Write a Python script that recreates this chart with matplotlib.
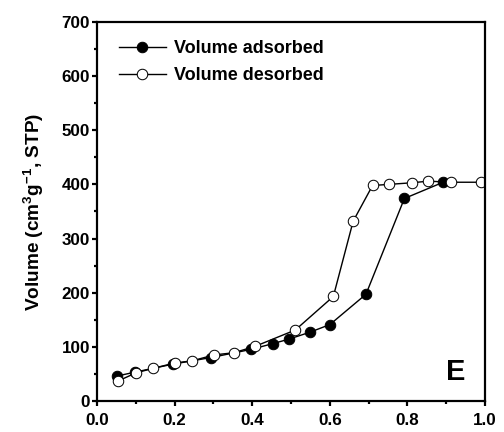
import matplotlib.pyplot as plt
from matplotlib.ticker import MultipleLocator

plt.rcParams['font.family'] = ['Liberation Sans', 'DejaVu Sans']
plt.rcParams['font.weight'] = 'bold'
plt.rcParams['mathtext.fontset'] = 'custom'
plt.rcParams['mathtext.rm'] = 'Liberation Sans:bold'
plt.rcParams['mathtext.default'] = 'rm'

# adsorption branch
p_ads = [0.052, 0.097, 0.196, 0.293, 0.396, 0.454, 0.494, 0.549, 0.600, 0.693, 0.792, 0.892]
v_ads = [46, 53, 68, 80, 95, 106, 114, 127, 141, 197, 374, 404]

# desorption branch
p_des = [0.055, 0.101, 0.144, 0.200, 0.245, 0.302, 0.353, 0.408, 0.511, 0.609, 0.660,
         0.710, 0.752, 0.811, 0.854, 0.911, 0.989]
v_des = [37, 52, 60, 70, 74, 85, 89, 101, 131, 193, 332, 398, 400, 403, 406, 404, 404]

fig = plt.figure(figsize=(7, 6), dpi=72)
ax = fig.add_axes([0.1925, 0.072, 0.77, 0.877])

ax.plot(p_ads, v_ads, '-o', color='black', mfc='black', mec='black',
        ms=10.5, lw=1.4, label='Volume adsorbed')
ax.plot(p_des, v_des, '-o', color='black', mfc='white', mec='black',
        ms=10.5, lw=1.4, label='Volume desorbed')

ax.set_xlim(0, 1.0)
ax.set_ylim(0, 700)
ax.xaxis.set_major_locator(MultipleLocator(0.2))
ax.xaxis.set_minor_locator(MultipleLocator(0.1))
ax.yaxis.set_major_locator(MultipleLocator(100))
ax.yaxis.set_minor_locator(MultipleLocator(50))
ax.xaxis.set_major_formatter(plt.FormatStrFormatter('%.1f'))

for s in ax.spines.values():
    s.set_linewidth(2.2)
ax.tick_params(which='major', direction='out', length=5, width=2.2, labelsize=17)
ax.tick_params(axis='x', which='major', pad=7)
ax.tick_params(axis='y', which='major', pad=2)
ax.tick_params(which='minor', direction='out', length=3, width=2.2)

ax.set_ylabel('Volume (cm$^3$g$^{-1}$, STP)', fontsize=19, fontweight='bold', labelpad=16)

ax.text(0.925, 53, 'E', fontsize=29, fontweight='bold', ha='center', va='center')

ax.legend(loc='upper left', bbox_to_anchor=(0.01, 1.0), frameon=False, fontsize=18,
          handlelength=2.6, handletextpad=0.45, borderaxespad=0.6, labelspacing=0.55)

plt.savefig('out.png', dpi=72)
